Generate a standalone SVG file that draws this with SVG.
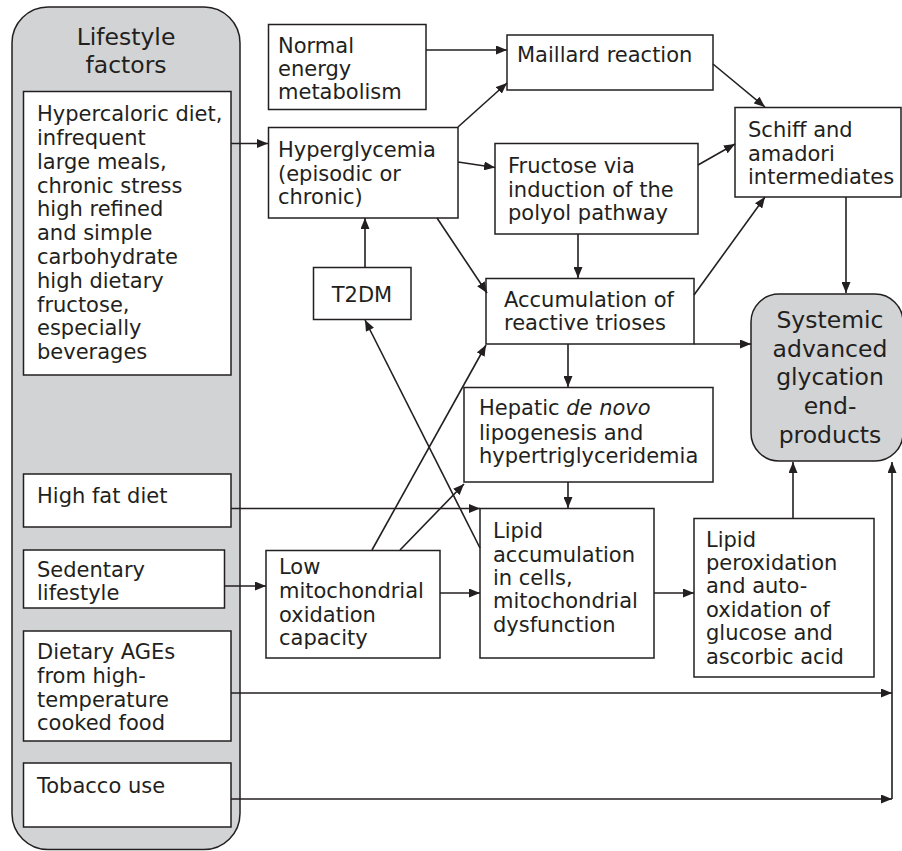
<svg xmlns="http://www.w3.org/2000/svg" width="902" height="851" viewBox="0 0 902 851">
<style>
.box{fill:#fff;stroke:#231f20;stroke-width:1.5}
.gray{fill:#d1d3d4;stroke:#231f20;stroke-width:1.5}
text{font-family:"DejaVu Sans","Liberation Sans",sans-serif;font-size:21px;fill:#231f20}
.big{font-size:23.5px;text-anchor:middle}
.c{stroke:#231f20;stroke-width:1.6;fill:none;marker-end:url(#ah)}
</style>
<defs>
<marker id="ah" markerUnits="userSpaceOnUse" markerWidth="11" markerHeight="9" refX="11" refY="4.5" orient="auto">
<path d="M0,0 L11,4.5 L0,9 z" fill="#231f20"/>
</marker>
</defs>
<rect width="902" height="851" fill="#fff"/>

<g id="lifestyle">
<rect class="gray" x="12" y="7" width="228" height="842.5" rx="36"/>
<text class="big" x="126" y="45">Lifestyle</text>
<text class="big" x="126" y="73">factors</text>
</g>
<g id="hypercaloric">
<rect class="box" x="23.5" y="91.5" width="207.5" height="283.5"/>
<text x="37"><tspan x="37" y="121">Hypercaloric diet,</tspan><tspan x="37" y="145">infrequent</tspan><tspan x="37" y="169">large meals,</tspan><tspan x="37" y="193">chronic stress</tspan><tspan x="37" y="216">high refined</tspan><tspan x="37" y="240">and simple</tspan><tspan x="37" y="264">carbohydrate</tspan><tspan x="37" y="288">high dietary</tspan><tspan x="37" y="312">fructose,</tspan><tspan x="37" y="335">especially</tspan><tspan x="37" y="359">beverages</tspan></text>
</g>
<g id="highfat">
<rect class="box" x="23.5" y="474" width="207.5" height="53"/>
<text x="37" y="503">High fat diet</text>
</g>
<g id="sedentary">
<rect class="box" x="23.5" y="550" width="201" height="58"/>
<text><tspan x="37" y="577">Sedentary</tspan><tspan x="37" y="600">lifestyle</tspan></text>
</g>
<g id="dietaryages">
<rect class="box" x="23.5" y="631" width="207.5" height="110"/>
<text><tspan x="37" y="659">Dietary AGEs</tspan><tspan x="37" y="683">from high-</tspan><tspan x="37" y="707">temperature</tspan><tspan x="37" y="730">cooked food</tspan></text>
</g>
<g id="tobacco">
<rect class="box" x="23.5" y="763" width="207.5" height="64"/>
<text x="37" y="793">Tobacco use</text>
</g>

<g id="normal">
<rect class="box" x="268.5" y="24.5" width="157.5" height="85"/>
<text><tspan x="278" y="53">Normal</tspan><tspan x="278" y="76">energy</tspan><tspan x="278" y="99">metabolism</tspan></text>
</g>
<g id="hyperglycemia">
<rect class="box" x="268.5" y="127.5" width="189.5" height="90.5"/>
<text><tspan x="278" y="157">Hyperglycemia</tspan><tspan x="278" y="181">(episodic or</tspan><tspan x="278" y="204">chronic)</tspan></text>
</g>
<g id="t2dm">
<rect class="box" x="313.5" y="267.5" width="97.5" height="52"/>
<text x="362" y="302" text-anchor="middle">T2DM</text>
</g>
<g id="lowmito">
<rect class="box" x="266" y="550.5" width="174" height="107.5"/>
<text><tspan x="279" y="574">Low</tspan><tspan x="279" y="598">mitochondrial</tspan><tspan x="279" y="622">oxidation</tspan><tspan x="279" y="645">capacity</tspan></text>
</g>
<g id="maillard">
<rect class="box" x="507" y="35" width="206" height="55"/>
<text x="517" y="62">Maillard reaction</text>
</g>
<g id="fructose">
<rect class="box" x="495" y="143.5" width="203" height="90.5"/>
<text><tspan x="508" y="173">Fructose via</tspan><tspan x="508" y="197">induction of the</tspan><tspan x="508" y="220">polyol pathway</tspan></text>
</g>
<g id="schiff">
<rect class="box" x="735" y="107.5" width="166" height="89.5"/>
<text><tspan x="748" y="137">Schiff and</tspan><tspan x="748" y="161">amadori</tspan><tspan x="748" y="184">intermediates</tspan></text>
</g>
<g id="accumulation">
<rect class="box" x="486" y="278.5" width="208" height="65.5"/>
<text><tspan x="504" y="307">Accumulation of</tspan><tspan x="504" y="330">reactive trioses</tspan></text>
</g>
<g id="systemic">
<rect class="gray" x="751" y="294" width="152" height="167" rx="28"/>
<text class="big"><tspan x="830" y="328">Systemic</tspan><tspan x="830" y="357">advanced</tspan><tspan x="830" y="385">glycation</tspan><tspan x="830" y="414">end-</tspan><tspan x="830" y="443">products</tspan></text>
</g>
<g id="hepatic">
<rect class="box" x="464" y="387.5" width="249" height="94.5"/>
<text><tspan x="479" y="415">Hepatic <tspan font-style="italic">de novo</tspan></tspan><tspan x="479" y="440">lipogenesis and</tspan><tspan x="479" y="463">hypertriglyceridemia</tspan></text>
</g>
<g id="lipidaccum">
<rect class="box" x="480" y="508.5" width="174" height="149.5"/>
<text><tspan x="493" y="538">Lipid</tspan><tspan x="493" y="562">accumulation</tspan><tspan x="493" y="585">in cells,</tspan><tspan x="493" y="608">mitochondrial</tspan><tspan x="493" y="632">dysfunction</tspan></text>
</g>
<g id="lipidperox">
<rect class="box" x="694" y="518.5" width="180" height="158.5"/>
<text><tspan x="706" y="547">Lipid</tspan><tspan x="706" y="570">peroxidation</tspan><tspan x="706" y="593">and auto-</tspan><tspan x="706" y="617">oxidation of</tspan><tspan x="706" y="640">glucose and</tspan><tspan x="706" y="664">ascorbic acid</tspan></text>
</g>

<g id="connectors">
<line class="c" x1="231" y1="143.5" x2="268" y2="143.5"/>
<line class="c" x1="426" y1="50" x2="507" y2="50"/>
<line class="c" x1="458" y1="127" x2="507" y2="83"/>
<line class="c" x1="458" y1="162" x2="495" y2="167.5"/>
<line class="c" x1="713" y1="64" x2="765" y2="107"/>
<line class="c" x1="698" y1="165" x2="735" y2="144"/>
<line class="c" x1="578" y1="234" x2="578" y2="278"/>
<line class="c" x1="437" y1="218" x2="487" y2="293"/>
<line class="c" x1="694" y1="295" x2="765" y2="197"/>
<line class="c" x1="846" y1="197" x2="846" y2="293"/>
<line class="c" x1="694" y1="344" x2="751" y2="344"/>
<line class="c" x1="568" y1="344" x2="568" y2="387"/>
<line class="c" x1="365" y1="267" x2="365" y2="218"/>
<line class="c" x1="480" y1="548" x2="365" y2="320"/>
<line class="c" x1="372" y1="550" x2="486" y2="345"/>
<line class="c" x1="400" y1="550" x2="464" y2="484"/>
<line class="c" x1="568" y1="482" x2="568" y2="508"/>
<line class="c" x1="231" y1="508.5" x2="480" y2="508.5"/>
<line class="c" x1="225" y1="586" x2="266" y2="586"/>
<line class="c" x1="440" y1="593" x2="480" y2="593"/>
<line class="c" x1="654" y1="593" x2="694" y2="593"/>
<line class="c" x1="793" y1="518" x2="793" y2="462"/>
<line class="c" x1="231" y1="693" x2="892" y2="693"/>
<line class="c" x1="231" y1="799" x2="892" y2="799"/>
<line class="c" x1="892" y1="799" x2="892" y2="462"/>
</g>
</svg>
